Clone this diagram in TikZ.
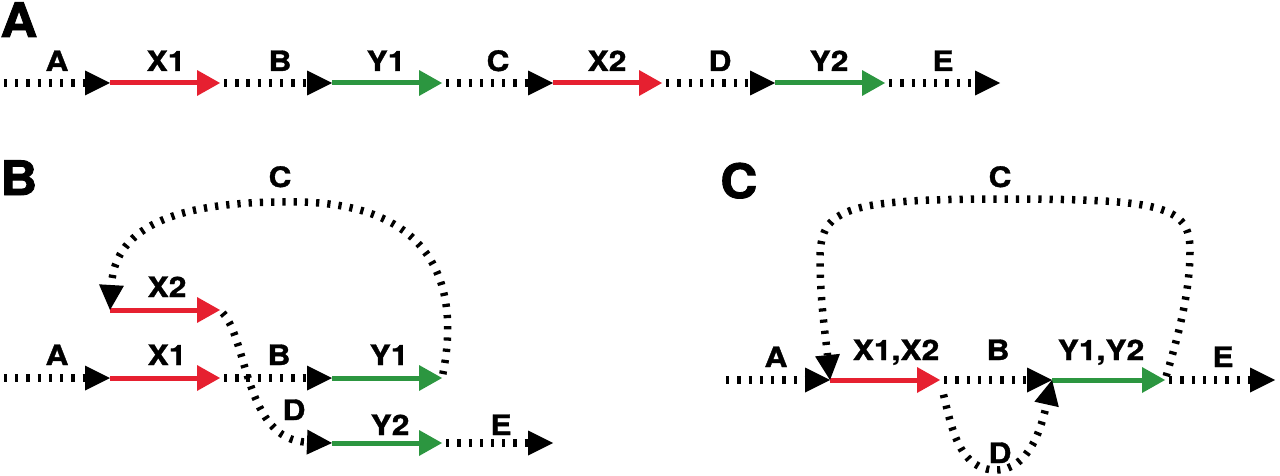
\documentclass[tikz,border=0pt]{standalone}
\usepackage{fontspec}
\usepackage{xcolor}
\usepackage{tikz}
\usetikzlibrary{arrows.meta}

\newfontfamily\lblfont[FakeStretch=1.13, FakeBold=1.2]{TeX Gyre Heros}
\newfontfamily\panelfont[FakeStretch=1.08, FakeBold=1.8]{TeX Gyre Heros}
\definecolor{xred}{RGB}{230,32,48}
\definecolor{ygreen}{RGB}{44,150,64}

\begin{document}
\begin{tikzpicture}[
    x=0.02cm, y=-0.02cm,
    dotline/.style={draw=black, line width=0.15cm, dash pattern=on 0.065cm off 0.16cm, shorten <=0.08cm, -{Triangle[length=0.5cm, width=0.5cm, line width=0pt]}},
    xarrow/.style={draw=xred, line width=0.1cm, -{Triangle[length=0.46cm, width=0.52cm, line width=0pt]}},
    yarrow/.style={xarrow, draw=ygreen},
    lbl/.style={anchor=base, inner sep=0pt, font=\lblfont\bfseries\fontsize{16}{18}\selectfont},
    panel/.style={anchor=base west, inner sep=0pt, font=\panelfont\bfseries\fontsize{27}{30}\selectfont}
]
    \useasboundingbox (0,0) rectangle (1280,476);

    % Panel A: linear order
    \node[panel] (PA) at (0,37) {A};
    \coordinate (A0) at (0,83);
    \coordinate (A1) at (110,83);
    \coordinate (A2) at (220,83);
    \coordinate (A3) at (332,83);
    \coordinate (A4) at (442,83);
    \coordinate (A5) at (553,83);
    \coordinate (A6) at (662,83);
    \coordinate (A7) at (775,83);
    \coordinate (A8) at (885,83);
    \coordinate (A9) at (1000,83);

    \draw[dotline] (A0) -- (A1);
    \draw[xarrow] (A1) -- (A2);
    \draw[dotline] (A2) -- (A3);
    \draw[yarrow] (A3) -- (A4);
    \draw[dotline] (A4) -- (A5);
    \draw[xarrow] (A5) -- (A6);
    \draw[dotline] (A6) -- (A7);
    \draw[yarrow] (A7) -- (A8);
    \draw[dotline] (A8) -- (A9);

    \node[lbl] (LA_A) at (57,71) {A};
    \node[lbl] (LA_X1) at (166,71) {X1};
    \node[lbl] (LA_B) at (280,71) {B};
    \node[lbl] (LA_Y1) at (386,71) {Y1};
    \node[lbl] (LA_C) at (498,71) {C};
    \node[lbl] (LA_X2) at (607,71) {X2};
    \node[lbl] (LA_D) at (720,71) {D};
    \node[lbl] (LA_Y2) at (829,71) {Y2};
    \node[lbl] (LA_E) at (943,71) {E};

    % Panel B: C loops back, D branches off
    \node[panel] (PB) at (0,195) {B};
    \coordinate (B0) at (0,378);
    \coordinate (B1) at (110,378);
    \coordinate (B2) at (220,378);
    \coordinate (B3) at (332,378);
    \coordinate (B4) at (442,378);
    \coordinate (B5) at (110,310);
    \coordinate (B6) at (220,310);
    \coordinate (B7) at (332,443);
    \coordinate (B8) at (442,443);
    \coordinate (B9) at (553,443);

    \draw[dotline] (B0) -- (B1);
    \draw[xarrow] (B1) -- (B2);
    \draw[dotline] (B2) -- (B3);
    \draw[yarrow] (B3) -- (B4);
    \draw[xarrow] (B5) -- (B6);
    \draw[yarrow] (B7) -- (B8);
    \draw[dotline] (B8) -- (B9);
    \draw[dotline] (B4) .. controls (458,300) and (445,205) .. (300,202)
        .. controls (180,200) and (115,225) .. (B5);
    \draw[dotline] (B6) .. controls (248,340) and (245,440) .. (B7);

    \node[lbl] (LB_A) at (57,365) {A};
    \node[lbl] (LB_X1) at (167,365) {X1};
    \node[lbl] (LB_B) at (279,365) {B};
    \node[lbl] (LB_Y1) at (389,365) {Y1};
    \node[lbl] (LB_X2) at (167,297) {X2};
    \node[lbl] (LB_C) at (280,187) {C};
    \node[lbl] (LB_D) at (294,420) {D};
    \node[lbl] (LB_Y2) at (390,435) {Y2};
    \node[lbl] (LB_E) at (501,435) {E};

    % Panel C: merged cycle
    \node[panel] (PC) at (720,198) {C};
    \coordinate (C0) at (722,380);
    \coordinate (C1) at (830,380);
    \coordinate (C2) at (940,380);
    \coordinate (C3) at (1052,380);
    \coordinate (C4) at (1165,380);
    \coordinate (C5) at (1275,380);

    \draw[dotline] (C0) -- (C1);
    \draw[xarrow] (C1) -- (C2);
    \draw[dotline] (C2) -- (C3);
    \draw[yarrow] (C3) -- (C4);
    \draw[dotline] (C4) -- (C5);
    \draw[dotline] (C4) .. controls (1180,330) and (1190,290) .. (1190,250)
        .. controls (1190,205) and (1160,199) .. (1000,199)
        .. controls (840,199) and (820,210) .. (820,260)
        .. controls (820,300) and (826,340) .. (C1);
    \draw[dotline, shorten <=0.3cm] (C2) .. controls (952,430) and (960,470) .. (996,470)
        .. controls (1030,470) and (1042,425) .. (C3);

    \node[lbl] (LC_A) at (776,367) {A};
    \node[lbl] (LC_X) at (896,360) {X1,X2};
    \node[lbl] (LC_B) at (998,360) {B};
    \node[lbl] (LC_Y) at (1101,360) {Y1,Y2};
    \node[lbl] (LC_E) at (1223,367) {E};
    \node[lbl] (LC_C) at (1000,187) {C};
    \node[lbl] (LC_D) at (1000,463) {D};
\end{tikzpicture}
\end{document}
